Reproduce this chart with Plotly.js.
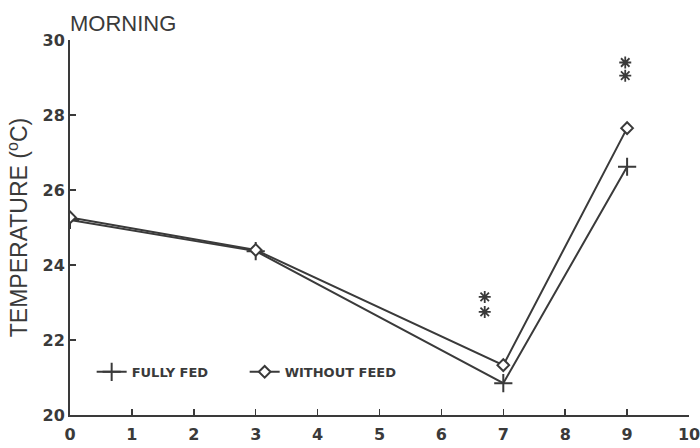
<!DOCTYPE html>
<html>
<head>
<meta charset="utf-8">
<script src="https://cdn.plot.ly/plotly-3.0.1.min.js"></script>
<style>
  html, body { margin: 0; padding: 0; background: #fff; }
  #chart { width: 700px; height: 448px; }
</style>
</head>
<body>
<div id="chart"></div>
<script>
// Sampling days and mean morning temperatures
const days = [0, 3, 7, 9];
const fullyFed = [25.2, 24.37, 20.85, 26.62];
const withoutFeed = [25.27, 24.4, 21.33, 27.65];

// Significance marks (asterisks)
const sigX = [6.7, 6.7, 8.97, 8.97];
const sigY = [23.15, 22.75, 29.4, 29.05];

const xTicks = [0, 1, 2, 3, 4, 5, 6, 7, 8, 9, 10];
const yTicks = [20, 22, 24, 26, 28, 30];

const ink = '#3a3a3a';
const sans = 'Liberation Sans, Arial, sans-serif';
const tickFace = 'DejaVu Sans, sans-serif';

const traces = [
  {
    x: days, y: fullyFed, name: 'FULLY FED',
    mode: 'lines+markers', type: 'scatter',
    line: { color: ink, width: 2 },
    marker: { symbol: 'cross-thin-open', size: 13, color: ink, line: { color: ink, width: 2 } }
  },
  {
    x: days, y: withoutFeed, name: 'WITHOUT FEED',
    mode: 'lines+markers', type: 'scatter',
    line: { color: ink, width: 2 },
    marker: { symbol: 'diamond', size: 9, color: '#fff', line: { color: ink, width: 2 } }
  },
  {
    x: sigX, y: sigY, showlegend: false,
    mode: 'markers', type: 'scatter',
    marker: { symbol: 'asterisk-open', size: 10, color: ink, line: { color: ink, width: 1.8 } },
    hoverinfo: 'skip'
  }
];

const layout = {
  width: 700, height: 448,
  margin: { l: 70, r: 11, t: 40, b: 33 },
  paper_bgcolor: '#fff', plot_bgcolor: '#fff',
  font: { family: sans, color: ink },
  title: {
    text: 'MORNING',
    font: { size: 22, color: ink, family: sans },
    xref: 'paper', x: 0, xanchor: 'left',
    yref: 'container', y: 0.947, yanchor: 'middle'
  },
  xaxis: {
    range: [0, 10], tickvals: xTicks, ticktext: xTicks.map(String),
    showgrid: false, zeroline: false,
    showline: true, linecolor: ink, linewidth: 2,
    ticks: 'inside', ticklen: 6, tickwidth: 1.5, tickcolor: ink,
    ticklabelstandoff: 4, ticklabeloverflow: 'allow',
    tickfont: { size: 16, color: ink, family: tickFace, weight: 'bold' },
    fixedrange: true
  },
  yaxis: {
    range: [20, 30], tickvals: yTicks, ticktext: yTicks.map(String),
    showgrid: false, zeroline: false,
    showline: true, linecolor: ink, linewidth: 2,
    ticks: 'inside', ticklen: 6, tickwidth: 1.5, tickcolor: ink,
    ticklabeloverflow: 'allow',
    tickfont: { size: 16, color: ink, family: tickFace, weight: 'bold' },
    title: {
      text: 'TEMPERATURE (<sup>o</sup>C)',
      font: { size: 23, color: ink, family: sans },
      standoff: 8
    },
    fixedrange: true
  },
  legend: {
    orientation: 'h', x: 0.035, y: 0.115, xanchor: 'left', yanchor: 'middle',
    font: { size: 13, color: ink, family: tickFace, weight: 'bold' },
    bgcolor: 'rgba(0,0,0,0)', entrywidth: 108, entrywidthmode: 'pixels'
  },
  showlegend: true
};

Plotly.newPlot('chart', traces, layout, { displayModeBar: false, staticPlot: true });
</script>
</body>
</html>
